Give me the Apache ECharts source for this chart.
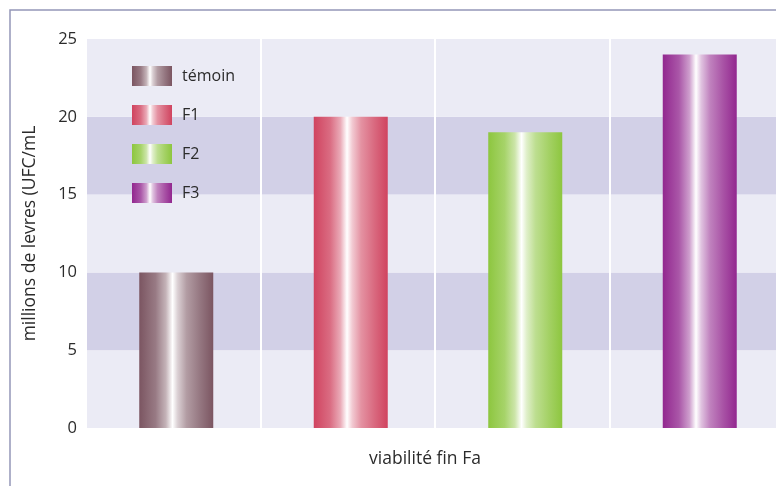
<!DOCTYPE html>
<html>
<head>
<meta charset="utf-8">
<script src="https://cdn.jsdelivr.net/npm/echarts@6/dist/echarts.min.js"></script>
<style>
html,body{margin:0;padding:0;background:#fff;}
#chart{width:776px;height:486px;}
</style>
</head>
<body>
<div id="chart"></div>
<script>
// Viabilité en fin de fermentation (millions de levures, UFC/mL)
const categories = ['témoin', 'F1', 'F2', 'F3'];
const values = [10, 20, 19, 24];
const baseColors = ['#7b5561', '#d0435f', '#8dc63f', '#92278f'];
const yTicks = { min: 0, max: 25, interval: 5 };

function mix(hex, t) {
  const n = parseInt(hex.slice(1), 16);
  const r = (n >> 16) & 255, g = (n >> 8) & 255, b = n & 255;
  const f = c => Math.round(c + (255 - c) * t);
  return 'rgb(' + f(r) + ',' + f(g) + ',' + f(b) + ')';
}

// cylinder-like horizontal shading with a bright highlight left of centre
function shade(hex) {
  return new echarts.graphic.LinearGradient(0, 0, 1, 0, [
    { offset: 0, color: hex },
    { offset: 0.22, color: mix(hex, 0.22) },
    { offset: 0.36, color: mix(hex, 0.55) },
    { offset: 0.45, color: '#ffffff' },
    { offset: 0.52, color: mix(hex, 0.72) },
    { offset: 0.64, color: mix(hex, 0.42) },
    { offset: 0.82, color: mix(hex, 0.2) },
    { offset: 1, color: hex }
  ]);
}

const font = '"Open Sans", "Noto Sans", sans-serif';
const textColor = '#2b2b2b';

const series = categories.map((name, i) => ({
  name: name,
  type: 'bar',
  xAxisIndex: 1,
  yAxisIndex: 1,
  barWidth: 74,
  barGap: '-100%',
  itemStyle: { color: shade(baseColors[i]) },
  data: categories.map((c, j) => (j === i ? values[i] : null))
}));

const chart = echarts.init(document.getElementById('chart'), null, { renderer: 'canvas' });
chart.setOption({
  backgroundColor: '#ffffff',
  animation: false,
  textStyle: { fontFamily: font, color: textColor },
  grid: [
    { left: 86, top: 39, width: 698, height: 389, outerBoundsMode: 'none' },
    { left: 89, top: 39, width: 698, height: 389, outerBoundsMode: 'none' }
  ],
  legend: {
    orient: 'vertical',
    left: 132,
    top: 66,
    padding: 0,
    itemWidth: 40,
    itemHeight: 20,
    itemGap: 19,
    icon: 'rect',
    textStyle: { fontFamily: font, fontSize: 16, color: textColor, padding: [0, 0, 0, 5] },
    data: categories
  },
  xAxis: [
    {
      type: 'category',
      gridIndex: 0,
      data: categories,
      boundaryGap: true,
      axisLine: { show: false },
      axisTick: { show: false },
      axisLabel: { show: false },
      splitLine: { show: true, lineStyle: { color: '#ffffff', width: 2 } },
      name: 'viabilité fin Fa',
      nameLocation: 'middle',
      nameGap: 22,
      nameTextStyle: { fontFamily: font, fontSize: 17.5, color: textColor, padding: [0, 20, 0, 0] }
    },
    {
      type: 'category',
      gridIndex: 1,
      data: categories,
      show: false
    }
  ],
  yAxis: [
    {
      type: 'value',
      gridIndex: 0,
      min: yTicks.min,
      max: yTicks.max,
      interval: yTicks.interval,
      axisLine: { show: false },
      axisTick: { show: false },
      splitLine: { show: false },
      splitArea: { show: true, areaStyle: { color: ['#ebebf5', '#d2d0e7'] } },
      axisLabel: { fontFamily: font, fontSize: 16.5, color: textColor, margin: 9 },
      name: 'millions de levres (UFC/mL',
      nameLocation: 'middle',
      nameGap: 47,
      nameTextStyle: { fontFamily: font, fontSize: 17.5, color: textColor }
    },
    {
      type: 'value',
      gridIndex: 1,
      min: yTicks.min,
      max: yTicks.max,
      interval: yTicks.interval,
      show: false
    }
  ],
  graphic: [
    {
      type: 'rect',
      shape: { x: 10, y: 10, width: 800, height: 500 },
      style: { fill: null, stroke: '#9496b8', lineWidth: 1.5 },
      silent: true,
      z: 100
    }
  ],
  series: series
});
</script>
</body>
</html>
